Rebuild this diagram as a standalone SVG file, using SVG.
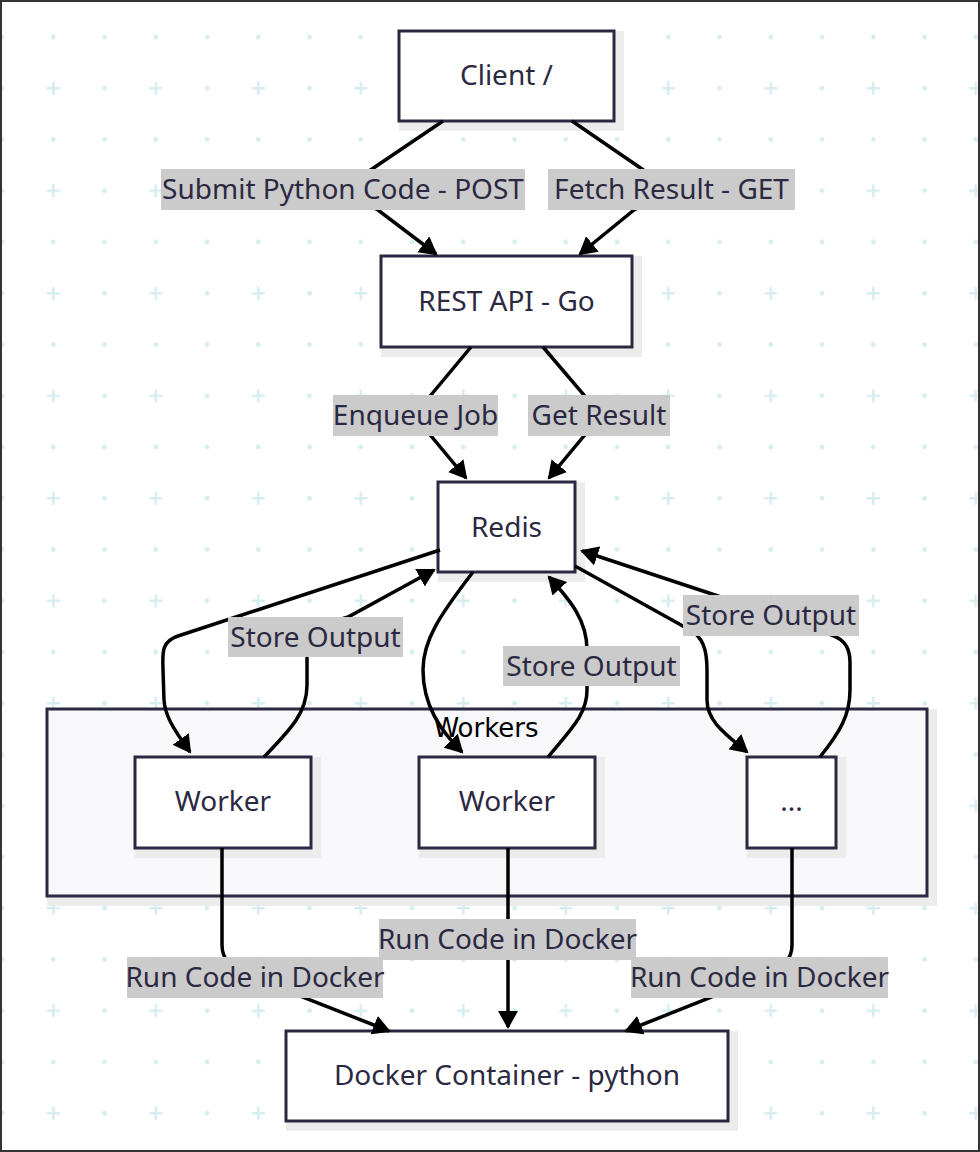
<svg xmlns="http://www.w3.org/2000/svg" width="980" height="1152" viewBox="0 0 980 1152">
<style>
.bgdot{fill:#d7edf0}
.bgplus{stroke:#d7edf0;stroke-width:2.6;fill:none}
.node{fill:#ffffff;stroke:#2b2942;stroke-width:3}
.shadow{fill:#ececec}
.cluster{fill:#f8f8fa;stroke:#2b2942;stroke-width:3}
.ntext{font-family:"Noto Sans","Open Sans",sans-serif;font-size:28px;fill:#2b2942;text-anchor:middle}
.ltext{font-family:"Noto Sans","Open Sans",sans-serif;font-size:28px;fill:#2b2942;text-anchor:middle}
.lbg{fill:#cbcbcb}
.ctext{font-family:"DejaVu Sans",sans-serif;font-size:26px;fill:#000000;text-anchor:middle}
.edge{fill:none;stroke:#000000;stroke-width:3.5;marker-end:url(#arrow)}
</style>
<defs>
<pattern id="grid" patternUnits="userSpaceOnUse" x="-23.6" y="11.4" width="102.5" height="102.5">
<circle class="bgdot" cx="25.6" cy="25.6" r="2.4"/>
<circle class="bgdot" cx="76.9" cy="25.6" r="2.4"/>
<circle class="bgdot" cx="25.6" cy="76.9" r="2.4"/>
<path class="bgplus" d="M70.4,76.9 H83.4 M76.9,70.4 V83.4"/>
</pattern>
<marker id="arrow" markerUnits="userSpaceOnUse" markerWidth="20" markerHeight="20" refX="16" refY="10" orient="auto">
<path d="M0,0 L18,10 L0,20 z" fill="#000000"/>
</marker>
</defs>
<rect x="0" y="0" width="980" height="1152" fill="#ffffff"/>
<rect x="0" y="0" width="980" height="1152" fill="url(#grid)"/>
<rect x="1" y="1" width="978" height="1150" fill="none" stroke="#333333" stroke-width="2"/>

<g id="cluster-workers">
<rect class="shadow" x="47" y="709" width="890" height="197"/>
<rect class="cluster" x="47" y="709" width="880" height="187"/>
<text class="ctext" x="486" y="737">Workers</text>
</g>

<g id="node-client">
<rect class="shadow" x="399" y="31" width="225" height="100"/>
<rect class="node" x="399" y="31" width="215" height="90"/>
<text class="ntext" x="506.5" y="85">Client /</text>
</g>
<g id="node-api">
<rect class="shadow" x="381" y="256" width="261" height="101"/>
<rect class="node" x="381" y="256" width="251" height="91"/>
<text class="ntext" x="506.5" y="311">REST API - Go</text>
</g>
<g id="node-redis">
<rect class="shadow" x="438" y="482" width="147" height="100"/>
<rect class="node" x="438" y="482" width="137" height="90"/>
<text class="ntext" x="506.5" y="537">Redis</text>
</g>
<g id="node-worker1">
<rect class="shadow" x="135" y="757" width="186" height="101"/>
<rect class="node" x="135" y="757" width="176" height="91"/>
<text class="ntext" x="223" y="811">Worker</text>
</g>
<g id="node-worker2">
<rect class="shadow" x="419" y="757" width="186" height="101"/>
<rect class="node" x="419" y="757" width="176" height="91"/>
<text class="ntext" x="507" y="811">Worker</text>
</g>
<g id="node-worker3">
<rect class="shadow" x="747" y="757" width="99" height="101"/>
<rect class="node" x="747" y="757" width="89" height="91"/>
<text class="ntext" x="791.5" y="811">...</text>
</g>
<g id="node-docker">
<rect class="shadow" x="286" y="1031" width="452" height="100"/>
<rect class="node" x="286" y="1031" width="442" height="90"/>
<text class="ntext" x="507" y="1085">Docker Container - python</text>
</g>

<g id="connectors">
<path id="e-client-api-post" class="edge" d="M443,121 L372,169 C352,182 352,198 378,210 L436,254"/>
<path id="e-client-api-get" class="edge" d="M572,121 L642,169 C660,182 660,198 634,210 L580,254"/>
<path id="e-api-redis-enqueue" class="edge" d="M471,347 L431,395 C420,410 420,425 431,436 L466,478"/>
<path id="e-api-redis-get" class="edge" d="M543,347 L584,395 C595,410 595,425 584,436 L549,478"/>
<path id="e-redis-w1" class="edge" d="M440,550 L178,636 C160,642 163,655 163,670 L164,700 C165,715 172,727 190,752"/>
<path id="e-w1-redis" class="edge" d="M264,757 C292,728 307,712 307,685 L307,645 C307,630 320,625 348,617 L434,570"/>
<path id="e-redis-w2" class="edge" d="M473,572 C440,615 423,640 423,670 C423,705 440,730 462,752"/>
<path id="e-w2-redis" class="edge" d="M548,757 C570,730 587,715 587,690 L587,650 C587,620 570,600 549,577"/>
<path id="e-redis-w3" class="edge" d="M575,566 L690,630 C703,637 707,650 707,670 L707,700 C707,722 727,735 747,752"/>
<path id="e-w3-redis" class="edge" d="M820,757 C840,732 850,715 850,690 L850,662 C850,645 842,637 825,633 L715,595 L582,551"/>
<path id="e-w1-docker" class="edge" d="M222,848 L222,945 C222,960 230,965 247,975 L389,1031"/>
<path id="e-w2-docker" class="edge" d="M508,848 L508,1027"/>
<path id="e-w3-docker" class="edge" d="M792,848 L792,945 C792,960 784,965 767,975 L626,1031"/>
</g>

<g id="edge-labels">
<g id="l-post"><rect class="lbg" x="161" y="169" width="364" height="41"/><text class="ltext" x="343" y="199">Submit Python Code - POST</text></g>
<g id="l-get"><rect class="lbg" x="548" y="169" width="247" height="41"/><text class="ltext" x="671.5" y="199">Fetch Result - GET</text></g>
<g id="l-enqueue"><rect class="lbg" x="333" y="395" width="165" height="41"/><text class="ltext" x="415.5" y="425">Enqueue Job</text></g>
<g id="l-getresult"><rect class="lbg" x="528" y="395" width="142" height="41"/><text class="ltext" x="599" y="425">Get Result</text></g>
<g id="l-store1"><rect class="lbg" x="228" y="617" width="175" height="40"/><text class="ltext" x="315.5" y="647">Store Output</text></g>
<g id="l-store2"><rect class="lbg" x="503" y="646" width="177" height="40"/><text class="ltext" x="591.5" y="676">Store Output</text></g>
<g id="l-store3"><rect class="lbg" x="683" y="595" width="176" height="41"/><text class="ltext" x="771" y="625">Store Output</text></g>
<g id="l-run2"><rect class="lbg" x="379" y="919" width="257" height="41"/><text class="ltext" x="507.5" y="949">Run Code in Docker</text></g>
<g id="l-run1"><rect class="lbg" x="127" y="957" width="256" height="41"/><text class="ltext" x="255" y="987">Run Code in Docker</text></g>
<g id="l-run3"><rect class="lbg" x="631" y="957" width="257" height="41"/><text class="ltext" x="759.5" y="987">Run Code in Docker</text></g>
</g>
</svg>
